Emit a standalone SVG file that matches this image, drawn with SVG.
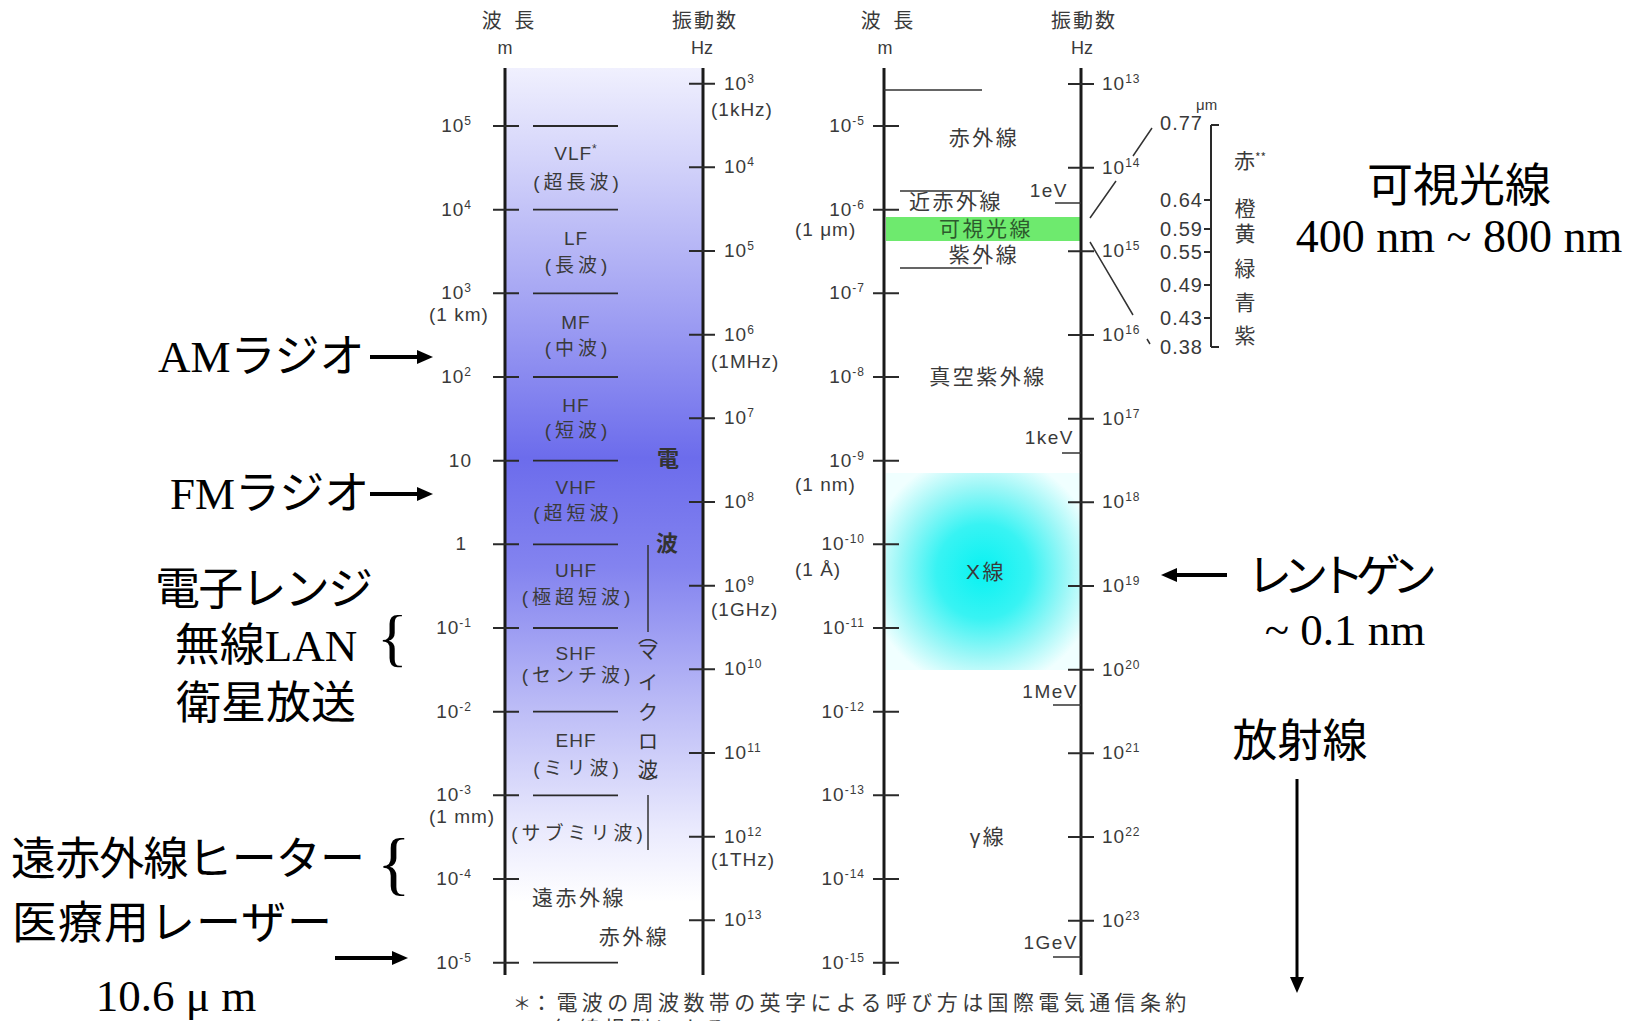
<svg xmlns="http://www.w3.org/2000/svg" width="1647" height="1021" viewBox="0 0 1647 1021">
<style>
.ax{stroke:#1a1a1a;stroke-width:3;fill:none}
.tk{stroke:#2a2a2a;stroke-width:2;fill:none}
.bl{stroke:#2a2a2a;stroke-width:1.8;fill:none}
.thin{stroke:#333;stroke-width:1.5;fill:none}
.num{font-family:"Liberation Sans","Noto Sans CJK JP",sans-serif;font-size:19px;fill:#3a3a3a;letter-spacing:1px}
.sup{font-size:12px}
.dec{font-family:"Liberation Sans",sans-serif;font-size:20px;fill:#3a3a3a;letter-spacing:1px}
.ev{font-family:"Liberation Sans",sans-serif;font-size:19px;fill:#3a3a3a;letter-spacing:1.5px}
.unit{font-family:"Liberation Sans","Noto Sans CJK JP",sans-serif;font-size:18px;fill:#3a3a3a}
.hd{font-family:"Noto Sans CJK JP",sans-serif;font-size:20px;fill:#3a3a3a;letter-spacing:2px}
.en{font-family:"Liberation Sans",sans-serif;font-size:19px;fill:#3a3a3a;letter-spacing:1px}
.jp{font-family:"Liberation Sans","Noto Sans CJK JP",sans-serif;font-size:19px;fill:#3a3a3a;letter-spacing:4px}
.kj{font-family:"Liberation Sans","Noto Sans CJK JP",sans-serif;font-size:21px;fill:#3a3a3a;letter-spacing:2.5px}
.vt{font-family:"Noto Sans CJK JP",sans-serif;font-size:20px;fill:#333}
.den{font-family:"Noto Sans CJK JP",sans-serif;font-size:22px;font-weight:bold;fill:#333}
.col{font-family:"Noto Sans CJK JP",sans-serif;font-size:21px;fill:#3a3a3a}
.fn{font-family:"Noto Sans CJK JP",sans-serif;font-size:21px;fill:#3a3a3a;letter-spacing:4.4px}
.big{font-family:"Liberation Serif","Noto Sans CJK JP",serif;font-size:45px;fill:#000}
.arr{stroke:#000;stroke-width:4;fill:none}
.mid{text-anchor:middle}
.end{text-anchor:end}
</style>
<defs>
<linearGradient id="radio" gradientUnits="userSpaceOnUse" x1="0" y1="68" x2="0" y2="975">
<stop offset="0" stop-color="#f0f0fe"/>
<stop offset="0.1" stop-color="#d4d4fa"/>
<stop offset="0.26" stop-color="#a3a3f3"/>
<stop offset="0.43" stop-color="#6c6cec"/>
<stop offset="0.55" stop-color="#8383ef"/>
<stop offset="0.7" stop-color="#babaf6"/>
<stop offset="0.84" stop-color="#eaeafd"/>
<stop offset="0.92" stop-color="#ffffff"/>
</linearGradient>
<radialGradient id="xray" cx="0.5" cy="0.5" r="0.6">
<stop offset="0" stop-color="#08f2f2"/>
<stop offset="0.4" stop-color="#38f3f3"/>
<stop offset="0.72" stop-color="#9cf7f7"/>
<stop offset="1" stop-color="#f0ffff"/>
</radialGradient>
<marker id="ah" viewBox="0 0 10 10" refX="5" refY="5" markerWidth="16" markerHeight="14" markerUnits="userSpaceOnUse" orient="auto" preserveAspectRatio="none">
<path d="M0,0 L10,5 L0,10 z" fill="#000"/>
</marker>
</defs>
<rect width="1647" height="1021" fill="#fff"/>

<g id="radio-panel">
<rect x="505" y="68" width="198" height="907" fill="url(#radio)"/>
<text class="hd mid" x="510" y="28" style="letter-spacing:4px">波 長</text>
<text class="unit mid" x="505" y="54">m</text>
<text class="hd mid" x="705" y="28">振動数</text>
<text class="unit mid" x="702" y="54">Hz</text>
<line class="ax" x1="505" y1="68" x2="505" y2="975"/>
<line class="ax" x1="703" y1="68" x2="703" y2="975"/>
<g class="tk">
<path d="M493,126H519M493,209.7H519M493,293.3H519M493,377H519M493,460.7H519M493,544.3H519M493,628H519M493,711.7H519M493,795.3H519M493,879H519M493,962.7H519"/>
<path d="M689,83.7H715M689,167.3H715M689,251H715M689,334.7H715M689,418.3H715M689,502H715M689,585.7H715M689,669.3H715M689,753H715M689,836.7H715M689,920.3H715"/>
</g>
<path class="bl" d="M533,126H618M533,209.7H618M533,293.3H618M533,377H618M533,460.7H618M533,544.3H618M533,628H618M533,711.7H618M533,795.3H618M533,962.7H618"/>
<g class="num end">
<text x="472" y="132">10<tspan class="sup" dy="-7">5</tspan></text>
<text x="472" y="215.7">10<tspan class="sup" dy="-7">4</tspan></text>
<text x="472" y="299.3">10<tspan class="sup" dy="-7">3</tspan></text>
<text x="472" y="383">10<tspan class="sup" dy="-7">2</tspan></text>
<text x="472" y="466.7">10</text>
<text x="467" y="550.3">1</text>
<text x="472" y="634">10<tspan class="sup" dy="-7">-1</tspan></text>
<text x="472" y="717.7">10<tspan class="sup" dy="-7">-2</tspan></text>
<text x="472" y="801.3">10<tspan class="sup" dy="-7">-3</tspan></text>
<text x="472" y="885">10<tspan class="sup" dy="-7">-4</tspan></text>
<text x="472" y="968.7">10<tspan class="sup" dy="-7">-5</tspan></text>
</g>
<text class="num" x="429" y="321">(1 km)</text>
<text class="num" x="429" y="823">(1 mm)</text>
<g class="num">
<text x="724" y="89.7">10<tspan class="sup" dy="-7">3</tspan></text>
<text x="711" y="116">(1kHz)</text>
<text x="724" y="173.3">10<tspan class="sup" dy="-7">4</tspan></text>
<text x="724" y="257">10<tspan class="sup" dy="-7">5</tspan></text>
<text x="724" y="340.7">10<tspan class="sup" dy="-7">6</tspan></text>
<text x="711" y="368">(1MHz)</text>
<text x="724" y="424.3">10<tspan class="sup" dy="-7">7</tspan></text>
<text x="724" y="508">10<tspan class="sup" dy="-7">8</tspan></text>
<text x="724" y="591.7">10<tspan class="sup" dy="-7">9</tspan></text>
<text x="711" y="616">(1GHz)</text>
<text x="724" y="675.3">10<tspan class="sup" dy="-7">10</tspan></text>
<text x="724" y="759">10<tspan class="sup" dy="-7">11</tspan></text>
<text x="724" y="842.7">10<tspan class="sup" dy="-7">12</tspan></text>
<text x="711" y="866">(1THz)</text>
<text x="724" y="926.3">10<tspan class="sup" dy="-7">13</tspan></text>
</g>
<g class="en mid">
<text x="576" y="160">VLF<tspan class="sup" dy="-7">*</tspan></text>
<text x="576" y="245">LF</text>
<text x="576" y="329">MF</text>
<text x="576" y="412">HF</text>
<text x="576" y="494">VHF</text>
<text x="576" y="577">UHF</text>
<text x="576" y="660">SHF</text>
<text x="576" y="747">EHF</text>
</g>
<g class="jp mid">
<text x="578" y="189">(超長波)</text>
<text x="578" y="272">(長波)</text>
<text x="578" y="355">(中波)</text>
<text x="578" y="437">(短波)</text>
<text x="578" y="520">(超短波)</text>
<text x="578" y="604">(極超短波)</text>
<text x="578" y="682">(センチ波)</text>
<text x="578" y="775">(ミリ波)</text>
<text x="579" y="840">(サブミリ波)</text>
</g>
<g class="kj mid">
<text x="579" y="905">遠赤外線</text>
<text x="634" y="944">赤外線</text>
</g>
<g class="den mid">
<text x="668" y="466">電</text>
<text x="667" y="551">波</text>
</g>
<text class="vt mid"><tspan x="648" y="643">︵</tspan><tspan x="648" y="659">マ</tspan><tspan x="648" y="690">イ</tspan><tspan x="648" y="720">ク</tspan><tspan x="648" y="749">ロ</tspan><tspan x="648" y="777">波</tspan><tspan x="648" y="792">︶</tspan></text>
<path class="thin" d="M648,545V632M648,795V850"/>
</g>

<g id="light-panel">
<rect x="886" y="217" width="194" height="24" fill="#6eea6e"/>
<rect x="886" y="473" width="194" height="197" fill="url(#xray)"/>
<text class="hd mid" x="889" y="28" style="letter-spacing:4px">波 長</text>
<text class="unit mid" x="885" y="54">m</text>
<text class="hd mid" x="1084" y="28">振動数</text>
<text class="unit mid" x="1082" y="54">Hz</text>
<line class="ax" x1="884" y1="68" x2="884" y2="975"/>
<line class="ax" x1="1081" y1="68" x2="1081" y2="975"/>
<g class="tk">
<path d="M873,126H899M873,209.7H899M873,293.3H899M873,377H899M873,460.7H899M873,544.3H899M873,628H899M873,711.7H899M873,795.3H899M873,879H899M873,962.7H899"/>
<path d="M1068,84H1094M1068,167.7H1094M1068,251.3H1094M1068,335H1094M1068,418.7H1094M1068,502.3H1094M1068,586H1094M1068,669.7H1094M1068,753.3H1094M1068,837H1094M1068,920.7H1094"/>
</g>
<path class="thin" d="M884,90H982M900,191H982M900,268H982M1055,203H1081M1062,453H1081M1053,705H1081M1053,957H1081"/>
<g class="num end">
<text x="865" y="132">10<tspan class="sup" dy="-7">-5</tspan></text>
<text x="865" y="215.7">10<tspan class="sup" dy="-7">-6</tspan></text>
<text x="865" y="299.3">10<tspan class="sup" dy="-7">-7</tspan></text>
<text x="865" y="383">10<tspan class="sup" dy="-7">-8</tspan></text>
<text x="865" y="466.7">10<tspan class="sup" dy="-7">-9</tspan></text>
<text x="865" y="550.3">10<tspan class="sup" dy="-7">-10</tspan></text>
<text x="865" y="634">10<tspan class="sup" dy="-7">-11</tspan></text>
<text x="865" y="717.7">10<tspan class="sup" dy="-7">-12</tspan></text>
<text x="865" y="801.3">10<tspan class="sup" dy="-7">-13</tspan></text>
<text x="865" y="885">10<tspan class="sup" dy="-7">-14</tspan></text>
<text x="865" y="968.7">10<tspan class="sup" dy="-7">-15</tspan></text>
</g>
<g class="num">
<text x="795" y="236">(1 μm)</text>
<text x="795" y="491">(1 nm)</text>
<text x="795" y="576">(1 Å)</text>
</g>
<g class="num">
<text x="1102" y="90">10<tspan class="sup" dy="-7">13</tspan></text>
<text x="1102" y="173.7">10<tspan class="sup" dy="-7">14</tspan></text>
<text x="1102" y="257.3">10<tspan class="sup" dy="-7">15</tspan></text>
<text x="1102" y="341">10<tspan class="sup" dy="-7">16</tspan></text>
<text x="1102" y="424.7">10<tspan class="sup" dy="-7">17</tspan></text>
<text x="1102" y="508.3">10<tspan class="sup" dy="-7">18</tspan></text>
<text x="1102" y="592">10<tspan class="sup" dy="-7">19</tspan></text>
<text x="1102" y="675.7">10<tspan class="sup" dy="-7">20</tspan></text>
<text x="1102" y="759.3">10<tspan class="sup" dy="-7">21</tspan></text>
<text x="1102" y="843">10<tspan class="sup" dy="-7">22</tspan></text>
<text x="1102" y="926.7">10<tspan class="sup" dy="-7">23</tspan></text>
</g>
<g class="ev end">
<text x="1068" y="197">1eV</text>
<text x="1074" y="444">1keV</text>
<text x="1078" y="698">1MeV</text>
<text x="1078" y="949">1GeV</text>
</g>
<g class="kj mid">
<text x="984" y="145">赤外線</text>
<text x="956" y="209">近赤外線</text>
<text x="986" y="236" style="fill:#2d5a2d">可視光線</text>
<text x="984" y="262">紫外線</text>
<text x="988" y="384">真空紫外線</text>
<text x="986" y="579">X線</text>
<text x="988" y="844">γ線</text>
</g>
<path class="thin" d="M1090,218L1116,181M1133,156L1152,128M1090,242L1133,315M1147,339L1150,344"/>
<path class="tk" d="M1211,125V347M1211,125H1219M1211,347H1219M1204,200H1211M1204,229H1211M1204,252H1211M1204,285H1211M1204,318H1211"/>
<text class="unit" x="1196" y="110" style="font-size:15px">μm</text>
<text class="dec end"><tspan x="1203" y="130">0.77</tspan><tspan x="1203" y="207">0.64</tspan><tspan x="1203" y="236">0.59</tspan><tspan x="1203" y="259">0.55</tspan><tspan x="1203" y="292">0.49</tspan><tspan x="1203" y="325">0.43</tspan><tspan x="1203" y="354">0.38</tspan></text>
<text class="col mid"><tspan x="1250" y="168">赤<tspan class="sup" dy="-6">**</tspan></tspan><tspan x="1245" y="216">橙</tspan><tspan x="1245" y="241">黄</tspan><tspan x="1245" y="276">緑</tspan><tspan x="1245" y="310">青</tspan><tspan x="1245" y="343">紫</tspan></text>
</g>

<g id="footnote">
<text class="fn" x="513" y="1010" style="font-size:18px;letter-spacing:0">＊</text>
<text class="fn"><tspan x="531" y="1010">：電波の周波数帯の英字による呼び方は国際電気通信条約</tspan><tspan x="553" y="1036">無線規則による</tspan></text>
</g>

<g id="annotations" class="big">
<text x="158" y="372">AMラジオ</text>
<text x="170" y="509">FMラジオ</text>
<text class="mid" x="264" y="605" textLength="218" lengthAdjust="spacing">電子レンジ</text>
<text class="mid" x="266" y="661">無線LAN</text>
<text class="mid" x="266" y="719">衛星放送</text>
<text x="377" y="659" style="font-size:64px">{</text>
<text x="11" y="875" textLength="354" lengthAdjust="spacing">遠赤外線ヒーター</text>
<text x="377" y="887" style="font-size:70px">{</text>
<text x="12" y="939" textLength="320" lengthAdjust="spacing">医療用レーザー</text>
<text class="mid" x="176" y="1011">10.6 μ m</text>
<text class="mid" x="1459" y="201" style="font-size:46px">可視光線</text>
<text class="mid" x="1459" y="252" style="font-size:46px">400 nm ~ 800 nm</text>
<text class="mid" x="1342" y="592" textLength="190" lengthAdjust="spacing">レントゲン</text>
<text class="mid" x="1345" y="645">~ 0.1 nm</text>
<text class="mid" x="1300" y="757">放射線</text>
</g>

<g id="connectors">
<line class="arr" x1="370" y1="357" x2="425" y2="357" marker-end="url(#ah)"/>
<line class="arr" x1="370" y1="494" x2="425" y2="494" marker-end="url(#ah)"/>
<line class="arr" x1="335" y1="958" x2="400" y2="958" marker-end="url(#ah)"/>
<line class="arr" x1="1227" y1="575" x2="1169" y2="575" marker-end="url(#ah)"/>
<line class="arr" x1="1297" y1="779" x2="1297" y2="985" style="stroke-width:3" marker-end="url(#ah)"/>
</g>
</svg>
